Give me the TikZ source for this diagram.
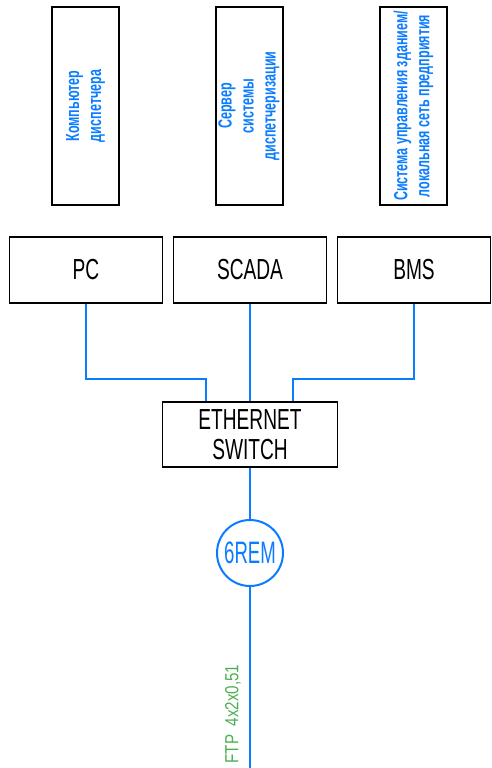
\documentclass[tikz,border=0pt]{standalone}
\usepackage{fontspec}
\setmainfont{Liberation Sans}[FakeStretch=0.66]
\newfontfamily\bluefont{Liberation Sans}[FakeStretch=0.66]
\newfontfamily\remfont{Liberation Sans}[FakeStretch=0.60]
\newfontfamily\ftpfont{Liberation Sans}[FakeStretch=0.80]
\definecolor{lineblue}{RGB}{10,124,255}
\definecolor{ftpgreen}{RGB}{76,175,80}
\begin{document}
\begin{tikzpicture}[x=1pt,y=-1pt,
  tallbox/.style={draw=black,line width=2pt,minimum width=67pt,minimum height=198pt,inner sep=0pt},
  devbox/.style={draw=black,line width=1.6pt,minimum width=153pt,minimum height=66pt,inner sep=0pt,font=\fontsize{29}{29}\selectfont},
  vtext/.style={rotate=90,align=center,text=lineblue,font=\bluefont\bfseries\fontsize{19}{22}\selectfont},
  link/.style={draw=lineblue,line width=2pt},
]
\useasboundingbox (0,0) rectangle (491,768);
% top boxes
\node[tallbox] (t1) at (85.5,106) {};
\node[tallbox] (t2) at (249,106) {};
\node[tallbox] (t3) at (413.5,106) {};
\node[vtext] (l1) at (t1.center) {Компьютер\\диспетчера};
\node[vtext] (l2) at (t2.center) {Сервер\\системы\\диспетчеризации};
\node[vtext] (l3) at (t3.center) {Система управления зданием/\\локальная сеть предприятия};
% devices
\node[devbox] (pc) at (86,270) {PC};
\node[devbox] (sc) at (250,270) {SCADA};
\node[devbox] (bms) at (414,270) {BMS};
\node[devbox,minimum width=175pt,minimum height=65pt,align=center,font=\fontsize{29}{30}\selectfont] (sw) at (250,434.5) {ETHERNET\\SWITCH};
% circle
\node[circle,draw=lineblue,line width=2pt,minimum size=66pt,inner sep=0pt,text=lineblue,font=\remfont\fontsize{31}{31}\selectfont] (rem) at (250,553) {6REM};
\coordinate (j1) at (206,379);
\coordinate (j2) at (293,379);
\coordinate (bot) at (250,768);
\draw[link] (pc.south) |- (j1) -- (j1 |- sw.north);
\draw[link] (sc.south) -- (sc.south |- sw.north);
\draw[link] (bms.south) |- (j2) -- (j2 |- sw.north);
\draw[link] (sw.south) -- (rem.north);
\draw[link] (rem.south) -- (bot);
\node[rotate=90,text=ftpgreen,font=\ftpfont\fontsize{19}{19}\selectfont,inner sep=0pt] (ftp) at (233,714) {FTP\ \ 4x2x0,51};
\end{tikzpicture}
\end{document}
